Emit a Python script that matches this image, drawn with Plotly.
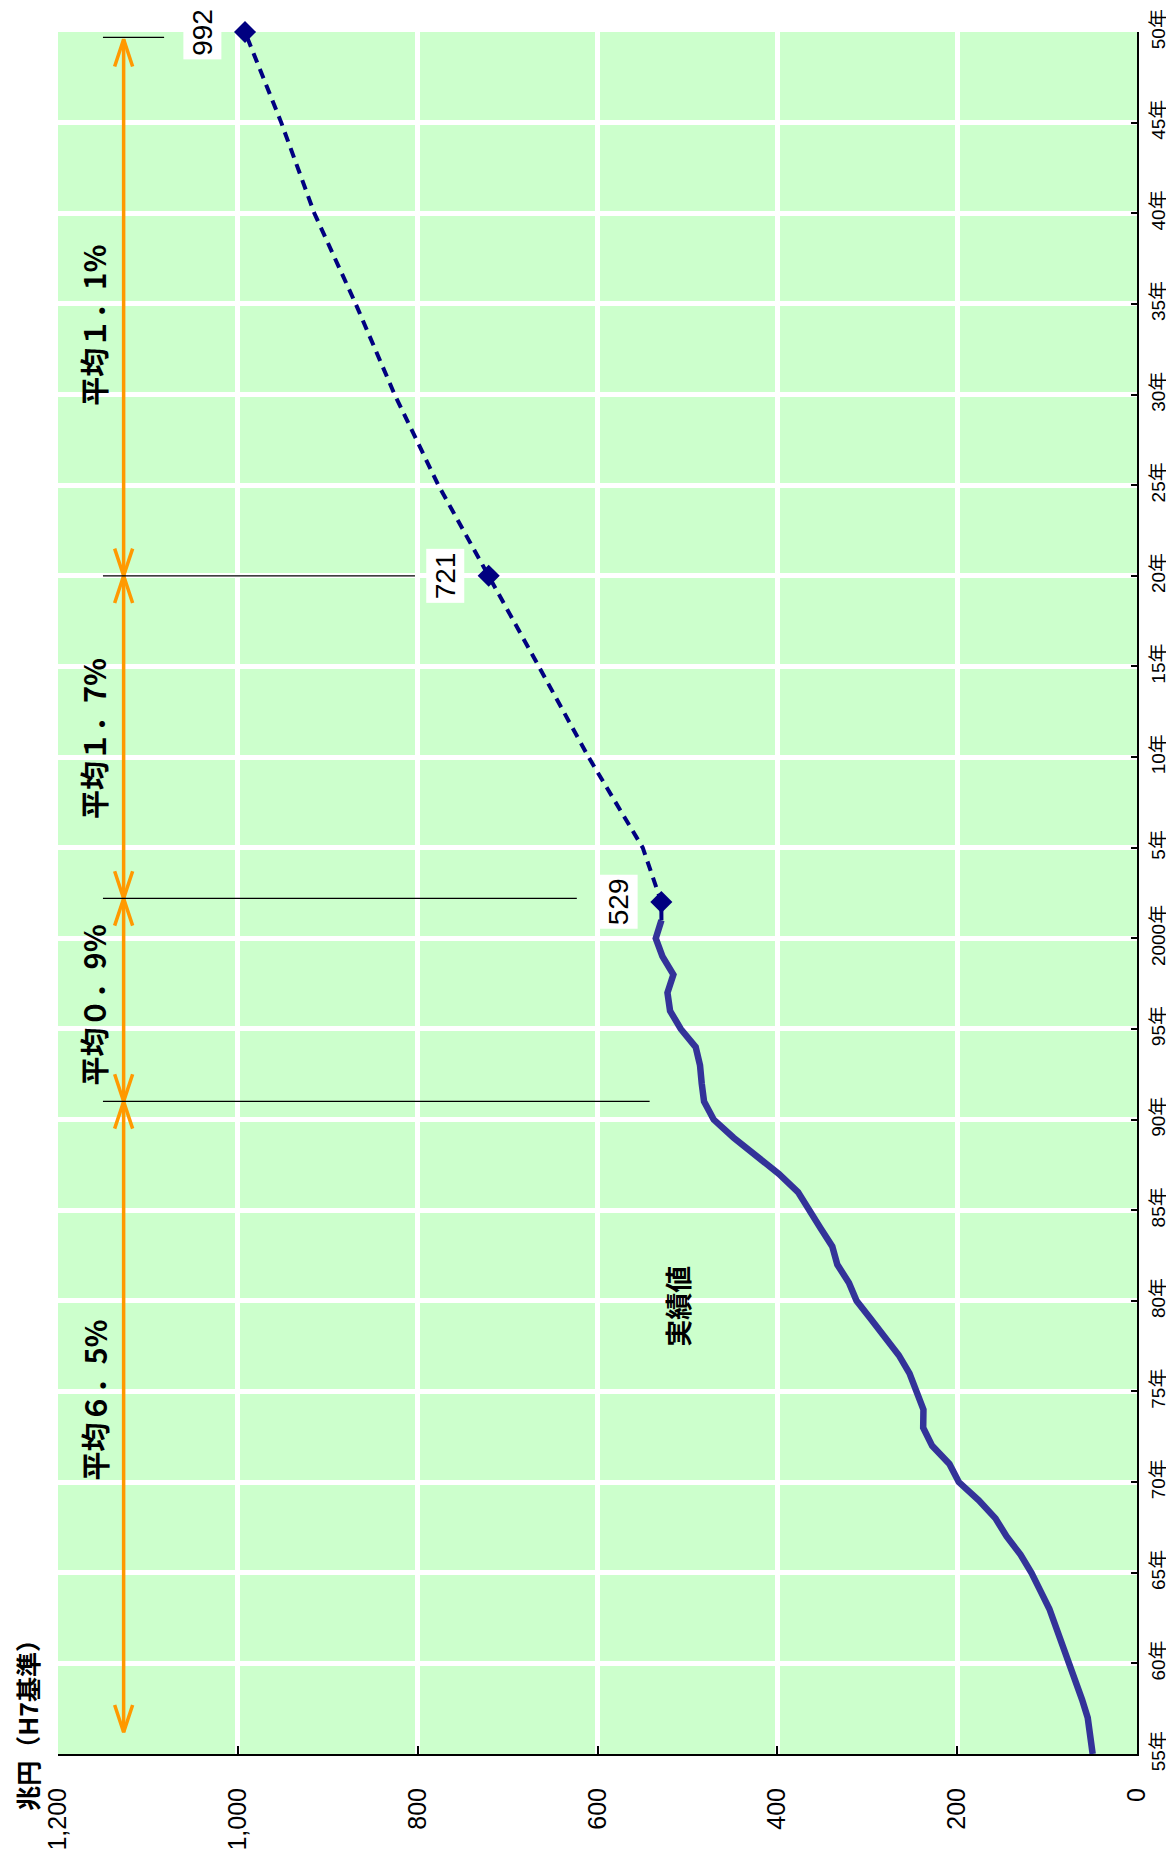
import plotly.graph_objects as go

# ---- data ----
years_actual = list(range(1955, 2002))
gdp_actual = [49.3, 52.6, 54.8, 61.1, 68.5, 76.0, 81.5, 89.6, 97.4, 107.4,
              117.4, 129.6, 145.0, 157.4, 176.0, 198.2, 208.6, 227.8, 237.8, 237.5,
              245.2, 253.0, 264.9, 279.7, 296.0, 311.9, 320.4, 333.3, 338.9, 351.9,
              364.8, 377.0, 398.2, 424.1, 448.6, 470.8, 481.5, 484.1, 486.0, 490.8,
              507.4, 519.3, 522.2, 515.6, 527.8, 535.2, 528.9]

years_proj = [2001, 2002, 2005, 2010, 2015, 2020, 2025, 2030, 2035, 2040, 2045, 2050]
gdp_proj = [528.9, 529, 549.7, 610.0, 665.3, 721, 777.0, 825.6, 868.9, 914.9, 951.7, 992]

marker_years = [2002, 2020, 2050]
marker_vals = [529, 721, 992]
marker_labels = ["529", "721", "992"]

period_bounds = [1956.2, 1991, 2002.2, 2020, 2049.6]
period_texts = ["平均６．5%", "平均０．9%", "平均１．7%", "平均１．1%"]
period_text_years = [1974.5, 1996.3, 2011.0, 2033.8]

value_ticks = [0, 200, 400, 600, 800, 1000, 1200]
value_ticktext = ["0", "200", "400", "600", "800", "1,000", "1,200"]
year_ticks = list(range(1955, 2051, 5))
year_ticktext = ["55年", "60年", "65年", "70年", "75年", "80年", "85年", "90年", "95年",
                 "2000年", "5年", "10年", "15年", "20年", "25年", "30年", "35年",
                 "40年", "45年", "50年"]

NUM_FONT = "Liberation Sans, Arial, Noto Sans CJK JP"
JP_FONT = "Noto Sans CJK JP, Liberation Sans"

fig = go.Figure()

# orange period arrows
ARROW_X = 1127
HEAD_W = 10     # value units
HEAD_L = 1.5    # years
ax, ay = [], []
for a, b in zip(period_bounds[:-1], period_bounds[1:]):
    ax += [ARROW_X, ARROW_X, None]
    ay += [a, b, None]
    ax += [ARROW_X - HEAD_W, ARROW_X, ARROW_X + HEAD_W, None]
    ay += [a + HEAD_L, a, a + HEAD_L, None]
    ax += [ARROW_X - HEAD_W, ARROW_X, ARROW_X + HEAD_W, None]
    ay += [b - HEAD_L, b, b - HEAD_L, None]
fig.add_trace(go.Scatter(x=ax, y=ay, mode="lines",
                         line=dict(color="#FF9900", width=3.5),
                         hoverinfo="skip"))

# leader lines
leader_years = [1991, 2002.2, 2020, 2049.7]
leader_end = [542, 623, 803, 1082]
lx, ly = [], []
for yv, xe in zip(leader_years, leader_end):
    lx += [1150, xe, None]
    ly += [yv, yv, None]
fig.add_trace(go.Scatter(x=lx, y=ly, mode="lines",
                         line=dict(color="black", width=1.3), hoverinfo="skip"))

# actual line
fig.add_trace(go.Scatter(x=gdp_actual, y=years_actual, mode="lines",
                         line=dict(color="#333399", width=6.5)))
# projection line
fig.add_trace(go.Scatter(x=gdp_proj, y=years_proj, mode="lines",
                         line=dict(color="#000080", width=4, dash="10px,7px")))
# markers
fig.add_trace(go.Scatter(x=marker_vals, y=marker_years, mode="markers",
                         marker=dict(symbol="diamond", size=17, color="#000080"),
                         cliponaxis=False))

annotations = []
for v, yr, t in zip(marker_vals, marker_years, marker_labels):
    annotations.append(dict(x=v + 48, y=yr, xref="x", yref="y", text=t,
                            textangle=-90, showarrow=False, bgcolor="white",
                            borderpad=3,
                            font=dict(family=NUM_FONT, size=28, color="black")))
for t, yr in zip(period_texts, period_text_years):
    annotations.append(dict(x=1161, y=yr, xref="x", yref="y", text="<b>" + t + "</b>",
                            textangle=-90, showarrow=False,
                            font=dict(family=JP_FONT, size=29, color="black")))
annotations.append(dict(x=511, y=1979.7, xref="x", yref="y", text="<b>実績値</b>",
                        textangle=-90, showarrow=False,
                        font=dict(family=JP_FONT, size=27, color="black")))
annotations.append(dict(x=-0.029, y=0.0203, xref="paper", yref="paper",
                        text="<b>兆円（H7基準）</b>", textangle=-90, showarrow=False,
                        xanchor="center", yanchor="middle",
                        font=dict(family=JP_FONT, size=25, color="black")))

fig.update_layout(
    width=1166, height=1846,
    margin=dict(l=50, r=37, t=24, b=100, autoexpand=False),
    plot_bgcolor="#CCFFCC", paper_bgcolor="white",
    showlegend=False,
    annotations=annotations,
    xaxis=dict(range=[1200, 0], tickvals=value_ticks, ticktext=value_ticktext,
               tickangle=-90, showgrid=True, gridcolor="white", gridwidth=5,
               showline=True, linecolor="black", linewidth=2,
               ticks="inside", ticklen=8, tickwidth=2, tickcolor="black",
               zeroline=False, ticklabelstandoff=22, automargin=False,
               tickfont=dict(family=NUM_FONT, size=25, color="black")),
    yaxis=dict(range=[1955, 2050], side="right", tickvals=year_ticks,
               ticktext=year_ticktext, tickangle=-90,
               showgrid=True, gridcolor="white", gridwidth=5,
               showline=True, linecolor="black", linewidth=2,
               ticks="inside", ticklen=6, tickwidth=2, tickcolor="black",
               zeroline=False, ticklabelstandoff=3, automargin=False,
               tickfont=dict(family=NUM_FONT, size=19, color="black")),
)

fig.write_html("out.html")
